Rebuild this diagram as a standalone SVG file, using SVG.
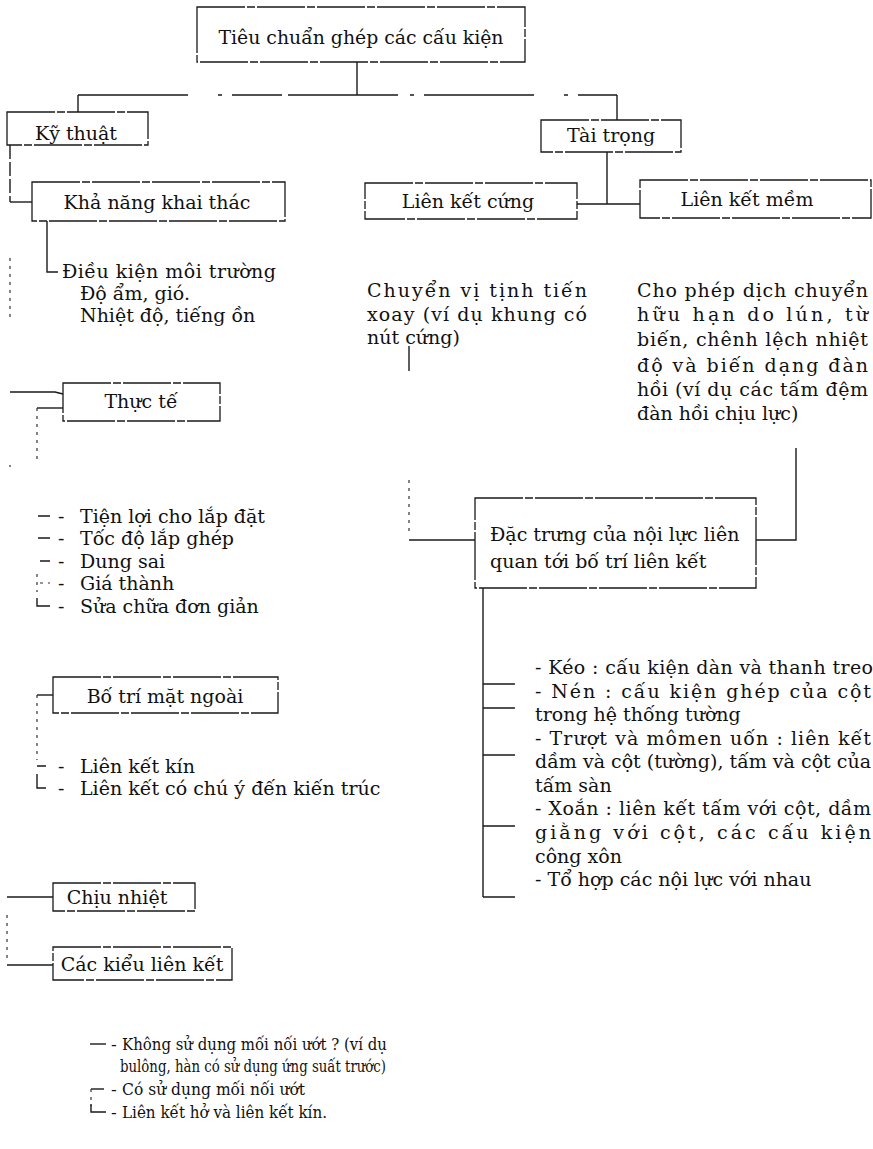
<svg xmlns="http://www.w3.org/2000/svg" width="873" height="1149" viewBox="0 0 873 1149">
<style>
.box{fill:none;stroke:#1a1a1a;stroke-width:1.3;stroke-dasharray:48 2 8 2}
.ln{fill:none;stroke:#1a1a1a;stroke-width:1.4}
.dl{fill:none;stroke:#333;stroke-width:1.2;stroke-dasharray:3 5}
.t{font-family:"DejaVu Serif","Liberation Serif",serif;font-size:19px;fill:#111}
.s{font-size:17px}
.c{text-anchor:middle}
</style>
<rect width="873" height="1149" fill="#fff"/>
<g id="connectors">
<path class="ln" d="M357 62V95"/>
<path class="ln" d="M78 95H617" stroke-dasharray="110 30 4 10 50 6 110 12 4 10"/>
<path class="ln" d="M78 95V112"/>
<path class="ln" d="M617 95V120"/>
<path class="ln" d="M607 152V204M577 204H640"/>
<path class="ln" d="M10 145V202" stroke-dasharray="14 3"/>
<path class="ln" d="M10 202H32"/>
<path class="ln" d="M47 221V272H58"/>
<path class="dl" d="M10 258V322"/>
<path class="ln" d="M10 392H55L63 394"/>
<path class="ln" d="M37 408H63"/>
<path class="dl" d="M37 408V462"/>
<path class="dl" d="M10 465V467"/>
<path class="ln" d="M38 516H50M38 538H50M40 561H50"/>
<path class="dl" d="M37 574V592M40 583H50"/>
<path class="ln" d="M37 598V606H50"/>
<path class="ln" d="M37 695H53"/>
<path class="dl" d="M37 695V760"/>
<path class="ln" d="M37 766H46M37 774V788H46"/>
<path class="ln" d="M7 897H53"/>
<path class="dl" d="M7 915V960"/>
<path class="ln" d="M7 965H53"/>
<path class="ln" d="M90 1044H106"/>
<path class="ln" d="M91 1089H104"/>
<path class="dl" d="M91 1089V1106"/>
<path class="ln" d="M91 1104V1112H106"/>
<path class="ln" d="M409 346V371"/>
<path class="dl" d="M409 480V536"/>
<path class="ln" d="M409 540H475"/>
<path class="ln" d="M796 448V540H756"/>
<path class="ln" d="M483 588V897"/>
<path class="ln" d="M483 684H515M483 708H515M483 755H515M483 826H515M483 897H515"/>
</g>
<g id="n-root"><rect class="box" x="197" y="7" width="328" height="55"/><text class="t c" x="361" y="44" textLength="285" lengthAdjust="spacingAndGlyphs">Tiêu chuẩn ghép các cấu kiện</text></g>
<g id="n-kythuat"><rect class="box" x="7" y="112" width="141" height="33"/><text class="t c" x="76" y="140">Kỹ thuật</text></g>
<g id="n-taitrong"><rect class="box" x="541" y="120" width="140" height="32"/><text class="t c" x="611" y="142">Tài trọng</text></g>
<g id="n-khanang"><rect class="box" x="32" y="182" width="253" height="39"/><text class="t c" x="157" y="209">Khả năng khai thác</text></g>
<g id="n-lkcung"><rect class="box" x="365" y="183" width="212" height="36"/><text class="t c" x="468" y="208">Liên kết cứng</text></g>
<g id="n-lkmem"><rect class="box" x="640" y="180" width="231" height="38"/><text class="t c" x="747" y="206">Liên kết mềm</text></g>
<g id="n-dieukien">
<text class="t" x="62" y="278" textLength="214" lengthAdjust="spacing">Điều kiện môi trường</text>
<text class="t" x="80" y="300">Độ ẩm, gió.</text>
<text class="t" x="80" y="322">Nhiệt độ, tiếng ồn</text>
</g>
<g id="n-cungtext">
<text class="t" x="367" y="297" textLength="220" lengthAdjust="spacing">Chuyển vị tịnh tiến</text>
<text class="t" x="367" y="321" textLength="220" lengthAdjust="spacing">xoay (ví dụ khung có</text>
<text class="t" x="367" y="344">nút cứng)</text>
</g>
<g id="n-memtext">
<text class="t" x="637" y="297" textLength="231" lengthAdjust="spacing">Cho phép dịch chuyển</text>
<text class="t" x="637" y="321" textLength="231" lengthAdjust="spacing">hữu hạn do lún, từ</text>
<text class="t" x="637" y="346" textLength="231" lengthAdjust="spacing">biến, chênh lệch nhiệt</text>
<text class="t" x="637" y="372" textLength="231" lengthAdjust="spacing">độ và biến dạng đàn</text>
<text class="t" x="637" y="396" textLength="231" lengthAdjust="spacing">hồi (ví dụ các tấm đệm</text>
<text class="t" x="637" y="420">đàn hồi chịu lực)</text>
</g>
<g id="n-thucte"><rect class="box" x="63" y="383" width="157" height="38"/><text class="t c" x="141" y="408">Thực tế</text></g>
<g id="n-thuctelist">
<text class="t" y="523"><tspan x="58">-</tspan><tspan x="80">Tiện lợi cho lắp đặt</tspan></text>
<text class="t" y="545"><tspan x="58">-</tspan><tspan x="80">Tốc độ lắp ghép</tspan></text>
<text class="t" y="568"><tspan x="58">-</tspan><tspan x="80">Dung sai</tspan></text>
<text class="t" y="590"><tspan x="58">-</tspan><tspan x="80">Giá thành</tspan></text>
<text class="t" y="613"><tspan x="58">-</tspan><tspan x="80">Sửa chữa đơn giản</tspan></text>
</g>
<g id="n-dactrung"><rect class="box" x="475" y="498" width="281" height="90"/>
<text class="t" x="490" y="541">Đặc trưng của nội lực liên</text>
<text class="t" x="490" y="568">quan tới bố trí liên kết</text>
</g>
<g id="n-noiluclist">
<text class="t" x="535" y="674" textLength="338" lengthAdjust="spacing">-  Kéo : cấu kiện dàn và thanh treo</text>
<text class="t" x="535" y="698" textLength="336" lengthAdjust="spacing">-  Nén : cấu kiện ghép của cột</text>
<text class="t" x="535" y="721">trong hệ thống tường</text>
<text class="t" x="535" y="745" textLength="336" lengthAdjust="spacing">-  Trượt và mômen uốn : liên kết</text>
<text class="t" x="535" y="768" textLength="336" lengthAdjust="spacing">dầm và cột (tường), tấm và cột của</text>
<text class="t" x="535" y="792">tấm sàn</text>
<text class="t" x="535" y="815" textLength="336" lengthAdjust="spacing">-  Xoắn : liên kết tấm với cột, dầm</text>
<text class="t" x="535" y="839" textLength="336" lengthAdjust="spacing">giằng với cột, các cấu kiện</text>
<text class="t" x="535" y="863">công xôn</text>
<text class="t" x="535" y="886">-  Tổ hợp các nội lực với nhau</text>
</g>
<g id="n-botri"><rect class="box" x="53" y="677" width="225" height="36"/><text class="t c" x="165" y="703">Bố trí mặt ngoài</text></g>
<g id="n-botrilist">
<text class="t" y="773"><tspan x="58">-</tspan><tspan x="80">Liên kết kín</tspan></text>
<text class="t" y="795"><tspan x="58">-</tspan><tspan x="80">Liên kết có chú ý đến kiến trúc</tspan></text>
</g>
<g id="n-chiunhiet"><rect class="box" x="53" y="883" width="142" height="28"/><text class="t c" x="117" y="904">Chịu nhiệt</text></g>
<g id="n-cackieu"><rect class="box" x="53" y="947" width="179" height="33"/><text class="t c" x="142" y="971">Các kiểu liên kết</text></g>
<g id="n-cackieulist">
<text class="t s" x="111" y="1050">-</text>
<text class="t s" x="122" y="1050" textLength="265" lengthAdjust="spacingAndGlyphs">Không sử dụng mối nối ướt ? (ví dụ</text>
<text class="t s" x="120" y="1072" textLength="266" lengthAdjust="spacingAndGlyphs">bulông, hàn có sử dụng ứng suất trước)</text>
<text class="t s" x="111" y="1095">-</text>
<text class="t s" x="122" y="1095" textLength="183" lengthAdjust="spacingAndGlyphs">Có sử dụng mối nối ướt</text>
<text class="t s" x="111" y="1118">-</text>
<text class="t s" x="122" y="1118" textLength="205" lengthAdjust="spacingAndGlyphs">Liên kết hở và liên kết kín.</text>
</g>
</svg>
